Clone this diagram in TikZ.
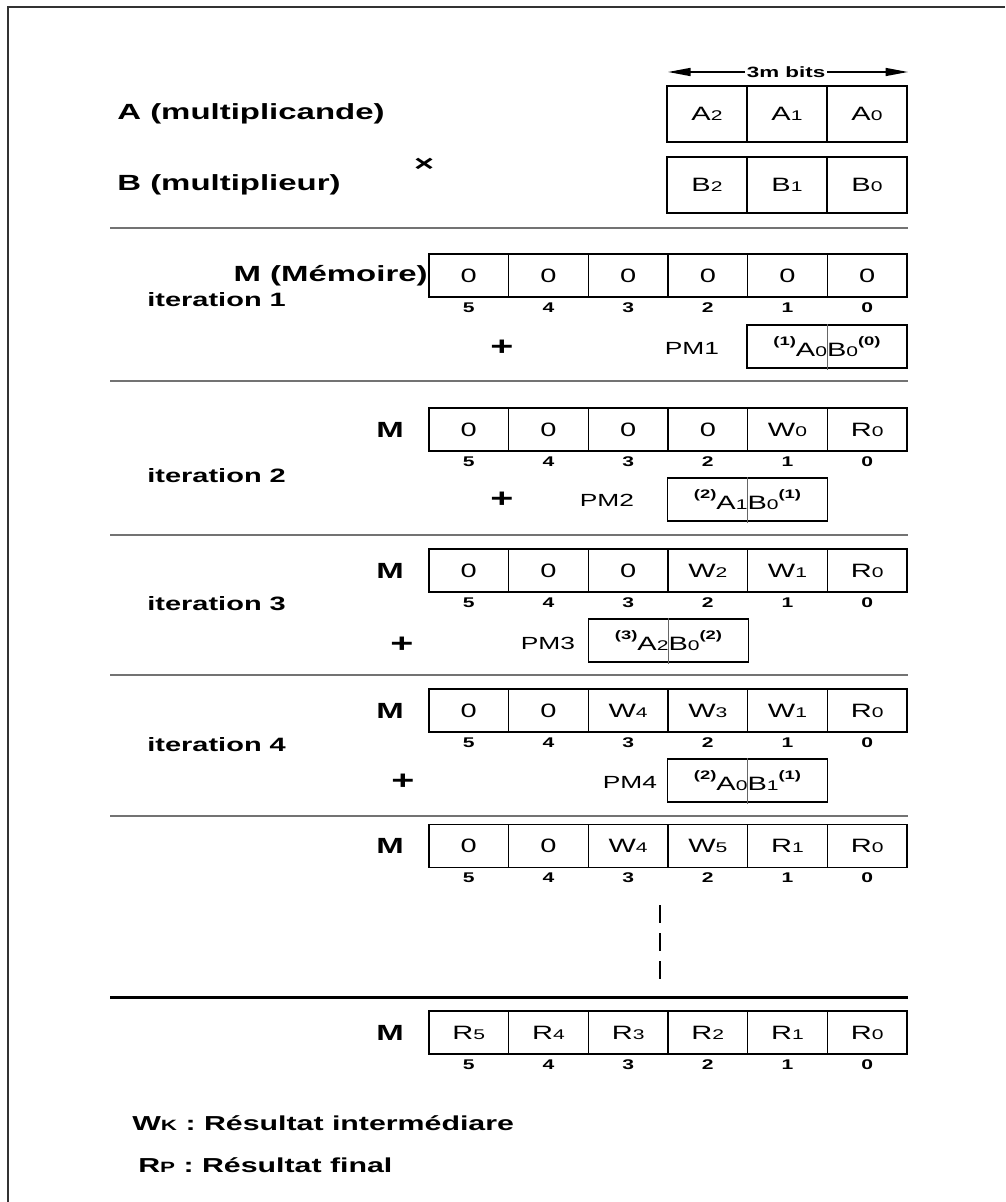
\documentclass[tikz,border=0pt]{standalone}
\usepackage{fontspec}
\setmainfont{Liberation Sans}[FakeStretch=1.5]
\usetikzlibrary{arrows.meta, positioning}

% small digits on the baseline, bold raised exponents
\newcommand\lo[1]{{\fontsize{8}{9}\selectfont #1}}
\newcommand\hi[1]{\raisebox{1.1ex}{\fontsize{7}{8}\selectfont\bfseries(#1)}}

\tikzset{
  cell/.style={draw=black, line width=0.8pt, minimum width=1.593cm, minimum height=0.86cm, inner sep=0pt, font=\fontsize{11}{13}\selectfont},
  idx/.style={font=\fontsize{8}{9}\selectfont\bfseries, inner sep=0pt},
  lbl/.style={font=\fontsize{12.5}{14}\selectfont\bfseries, inner sep=0pt},
  itlbl/.style={font=\fontsize{11}{13}\selectfont\bfseries, inner sep=0pt, anchor=west},
  pmbox/.style={draw=black, line width=0.8pt, minimum width=3.2cm, minimum height=0.86cm, inner sep=0pt, font=\fontsize{11}{13}\selectfont},
  pml/.style={font=\fontsize{10}{12}\selectfont, inner sep=0pt},
  sep/.style={draw=black!55, line width=1.1pt},
  plus/.style={font=\fontsize{15}{16}\selectfont\bfseries, inner sep=0pt},
  divider/.style={draw=black!60, line width=0.4pt},
}

% one row of the memory M: prefix, y of the centre, the six words 5..0
\newcommand\memrow[3]{%
  \foreach \v [count=\k from 0] in {#3} {
    \pgfmathtruncatemacro\bit{5-\k}
    \node[cell] (#1\bit) at ({468.8+79.67*\k},#2) {\v};
    \node[idx] (#1i\bit) at ({468.8+79.67*\k},{#2+32}) {\bit};
  }%
}

\begin{document}
\begin{tikzpicture}[x=0.02cm, y=-0.02cm]
  \useasboundingbox (0,0) rectangle (1005,1202);
  % frame, cut on the right and at the bottom
  \draw[line width=1.2pt, black!80] (8,1202) -- (8,7) -- (1005,7);

  % operands
  \node[lbl, anchor=west] (opa) at (117,114) {A (multiplicande)};
  \node[lbl, anchor=west] (opb) at (117,185) {B (multiplieur)};
  \node[font=\fontsize{13}{14}\selectfont\bfseries, inner sep=0pt] (times) at (424,165) {×};
  \foreach \v [count=\k from 0] in {2,1,0} {
    \node[cell, minimum height=1.12cm] (a\v) at ({707+80*\k},114) {A\lo{\v}};
    \node[cell, minimum height=1.12cm] (b\v) at ({707+80*\k},185) {B\lo{\v}};
  }
  \coordinate (wl) at (668,72);
  \coordinate (wr) at (908,72);
  \draw[{Triangle[length=0.45cm,width=0.16cm]}-{Triangle[length=0.45cm,width=0.16cm]}, line width=0.8pt] (wl) -- (wr);
  \node[fill=white, inner sep=1pt, font=\fontsize{8.5}{9}\selectfont\bfseries] (wbits) at (786,72) {3m bits};

  % separators
  \foreach \y in {228,381,535,675,816}
    \draw[sep] (110,\y) -- (908,\y);

  % iteration 1
  \memrow{ma}{275.5}{0,0,0,0,0,0}
  \node[lbl, anchor=east] (mmem) at (428,275.5) {M (Mémoire)};
  \node[itlbl] (it1) at (147,300) {iteration 1};
  \node[plus] (plus1) at (502,348) {+};
  \node[pml] (pm1l) at (692,348) {PM1};
  \node[pmbox] (pm1) at (827,346.5) {\hi{1}A\lo{0}B\lo{0}\hi{0}};
  \draw[divider] (pm1.north) -- ++(0,46);

  % iteration 2
  \memrow{mb}{429.5}{0,0,0,0,W\lo{0},R\lo{0}}
  \node[lbl] (mbl) at (390,429.5) {M};
  \node[itlbl] (it2) at (147,476) {iteration 2};
  \node[plus] (plus2) at (502,500) {+};
  \node[pml] (pm2l) at (607,500) {PM2};
  \node[pmbox] (pm2) at (747.5,499.5) {\hi{2}A\lo{1}B\lo{0}\hi{1}};
  \draw[divider] (pm2.north) -- ++(0,46);

  % iteration 3
  \memrow{mc}{570.5}{0,0,0,W\lo{2},W\lo{1},R\lo{0}}
  \node[lbl] (mcl) at (390,570.5) {M};
  \node[itlbl] (it3) at (147,604) {iteration 3};
  \node[plus] (plus3) at (402,645) {+};
  \node[pml] (pm3l) at (548,643) {PM3};
  \node[pmbox] (pm3) at (668.5,640.5) {\hi{3}A\lo{2}B\lo{0}\hi{2}};
  \draw[divider] (pm3.north) -- ++(0,46);

  % iteration 4
  \memrow{md}{710.5}{0,0,W\lo{4},W\lo{3},W\lo{1},R\lo{0}}
  \node[lbl] (mdl) at (390,710.5) {M};
  \node[itlbl] (it4) at (147,745) {iteration 4};
  \node[plus] (plus4) at (403,782) {+};
  \node[pml] (pm4l) at (630,782) {PM4};
  \node[pmbox] (pm4) at (747.5,780.5) {\hi{2}A\lo{0}B\lo{1}\hi{1}};
  \draw[divider] (pm4.north) -- ++(0,46);

  % and so on
  \memrow{me}{846}{0,0,W\lo{4},W\lo{5},R\lo{1},R\lo{0}}
  \node[lbl] (mel) at (390,846) {M};
  \coordinate (dtop) at (660,905);
  \coordinate (dbot) at (660,985);
  \draw[line width=1.5pt, dash pattern=on 10pt off 6pt] (dtop) -- (dbot);

  \draw[line width=1.7pt] (110,997) -- (908,997);

  % final result
  \memrow{mf}{1032.5}{R\lo{5},R\lo{4},R\lo{3},R\lo{2},R\lo{1},R\lo{0}}
  \node[lbl] (mfl) at (390,1032.5) {M};

  % legend
  \node[lbl, anchor=west, font=\fontsize{11.5}{13}\selectfont\bfseries] (lgw) at (132,1123) {W{\fontsize{8.5}{10}\selectfont K} : Résultat intermédiare};
  \node[lbl, anchor=west, font=\fontsize{11.5}{13}\selectfont\bfseries] (lgr) at (138,1165) {R{\fontsize{8.5}{10}\selectfont P} : Résultat final};
\end{tikzpicture}
\end{document}
